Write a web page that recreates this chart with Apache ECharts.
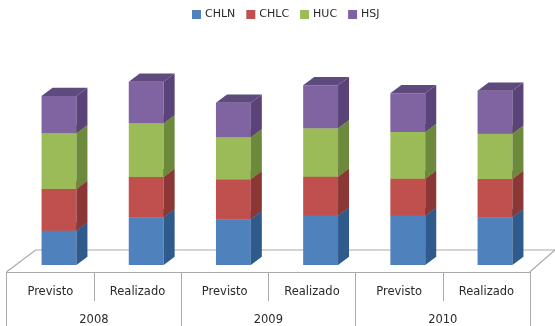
<!DOCTYPE html>
<html>
<head>
<meta charset="utf-8">
<style>html,body{margin:0;padding:0;background:#fff}#c{width:555px;height:326px}</style>
<script src="https://cdn.jsdelivr.net/npm/echarts@6/dist/echarts.min.js"></script>
</head>
<body>
<div id="c"></div>
<script>
// Hospital groups, planned against actual, per year
const plans = ['Previsto', 'Realizado', 'Previsto', 'Realizado', 'Previsto', 'Realizado'];
const years = ['2008', '2009', '2010'];
const chln = [34.3, 47.7, 45.7, 49.3, 49.3, 47.7];
const chlc = [41.7, 40.3, 40.0, 39.0, 37.0, 38.3];
const huc = [55.7, 53.7, 42.0, 48.4, 46.7, 45.3];
const hsj = [37.3, 41.6, 34.6, 43.0, 38.7, 43.0];
const groupNames = ['CHLN', 'CHLC', 'HUC', 'HSJ'];
const groupValues = [chln, chlc, huc, hsj];
const frontColors = ['#4F81BD', '#C0504D', '#9BBB59', '#8064A2'];
const sideColors = ['#2E5A8C', '#8A3735', '#6D8A3C', '#5A4378'];
const topColors = ['#3A6BA3', '#A04341', '#7F9C48', '#5F4A7E'];

const DEPTH_X = 11, DEPTH_Y = 8.3, LINE = '#A9A9A9';
const font = '"DejaVu Sans", sans-serif';
const INK = '#2a2a2a';

// Draws one stacked segment as a box: front face, right side and lid
function boxRenderer(s) {
  return function (params, api) {
    const i = api.value(0);
    const low = api.coord([i, api.value(1)]);
    const high = api.coord([i, api.value(1) + api.value(2)]);
    const w = api.size([1, 0])[0] * 0.4;
    const l = low[0] - w / 2, r = low[0] + w / 2;
    return {
      type: 'group',
      children: [
        { type: 'rect', shape: { x: l, y: high[1], width: w, height: low[1] - high[1] },
          style: { fill: frontColors[s] } },
        { type: 'polygon', shape: { points: [[r, low[1]], [r + DEPTH_X, low[1] - DEPTH_Y],
            [r + DEPTH_X, high[1] - DEPTH_Y], [r, high[1]]] },
          style: { fill: sideColors[s] } },
        { type: 'polygon', shape: { points: [[l, high[1]], [r, high[1]],
            [r + DEPTH_X, high[1] - DEPTH_Y], [l + DEPTH_X, high[1] - DEPTH_Y]] },
          style: { fill: topColors[s] } }
      ]
    };
  };
}

const totals = plans.map(() => 0);
const series = groupValues.map((values, s) => {
  const data = values.map((v, i) => {
    const row = [i, totals[i], v];
    totals[i] += v;
    return row;
  });
  return {
    type: 'custom',
    name: groupNames[s],
    xAxisIndex: 0,
    yAxisIndex: 0,
    clip: false,
    z: 5,
    itemStyle: { color: frontColors[s] },
    encode: { x: 0, y: [1, 2] },
    renderItem: boxRenderer(s),
    data
  };
});

const chart = echarts.init(document.getElementById('c'), null, { renderer: 'canvas' });
chart.setOption({
  animation: false,
  backgroundColor: '#fff',
  color: frontColors,
  legend: {
    top: 4,
    left: 187,
    itemWidth: 9,
    itemHeight: 9,
    itemGap: 11,
    icon: 'rect',
    textStyle: { fontFamily: font, fontSize: 11, color: INK, padding: [0, 0, 0, -1] },
    data: groupNames
  },
  grid: [
    { left: 15.4, width: 523.2, top: 65, height: 200 },
    { left: 6.7, width: 523.3, top: 271, height: 1 }
  ],
  xAxis: [
    { type: 'category', gridIndex: 0, data: plans, show: false },
    { type: 'category', gridIndex: 1, data: plans, position: 'bottom',
      axisLine: { show: true, lineStyle: { color: LINE, width: 1.2 } },
      axisTick: { show: true, length: 29, lineStyle: { color: LINE } },
      axisLabel: { interval: 0, margin: 14, fontFamily: font, fontSize: 11.5, color: INK } },
    { type: 'category', gridIndex: 1, data: years, position: 'bottom',
      axisLine: { show: false },
      axisTick: { show: true, length: 55, lineStyle: { color: LINE } },
      axisLabel: { interval: 0, margin: 42, fontFamily: font, fontSize: 11.5, color: INK } }
  ],
  yAxis: [
    { type: 'value', gridIndex: 0, min: 0, max: 200, show: false },
    { type: 'value', gridIndex: 1, show: false }
  ],
  // Floor of the plot behind the columns
  graphic: [
    { type: 'polyline', silent: true, z: 0,
      shape: { points: [[6.7, 271.7], [35.7, 250], [555, 250]] },
      style: { fill: null, stroke: LINE, lineWidth: 1.2 } },
    { type: 'line', silent: true, z: 0,
      shape: { x1: 530, y1: 271.7, x2: 555, y2: 250 },
      style: { stroke: LINE, lineWidth: 1.2 } }
  ],
  series
});
</script>
</body>
</html>
